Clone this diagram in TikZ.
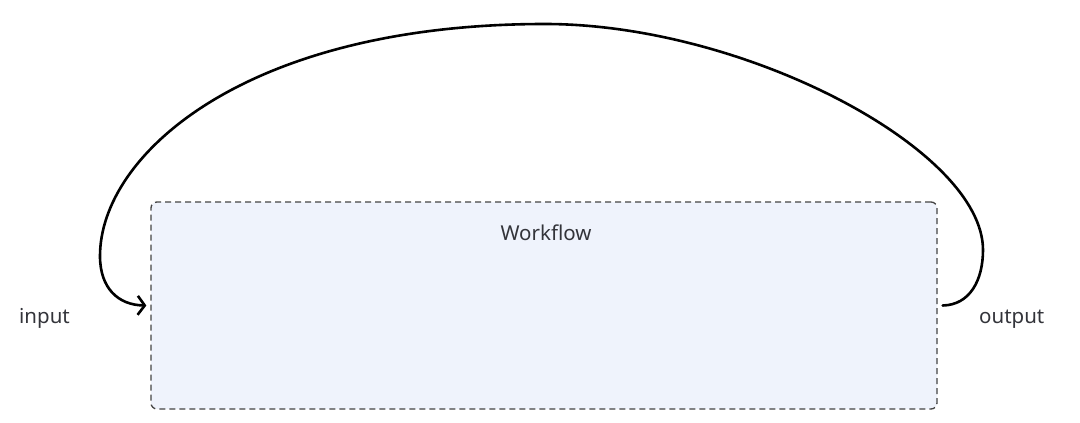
\documentclass[tikz,border=0pt]{standalone}
\usepackage{fontspec}
\setmainfont{Noto Sans}
\usetikzlibrary{arrows.meta}
\definecolor{boxfill}{HTML}{EFF3FC}
\definecolor{boxline}{HTML}{444444}
\definecolor{txt}{HTML}{33343A}
\tikzset{
  wfbox/.style={draw=boxline, fill=boxfill, line width=1.3pt, dash pattern=on 6pt off 4pt, rounded corners=6pt, minimum width=786pt, minimum height=207pt, inner sep=0pt},
  lbl/.style={text=txt, font=\fontsize{20.5}{24}\selectfont, inner sep=0pt},
  loopline/.style={line width=2.6pt, black, line cap=round, -{Straight Barb[length=7pt,width=19pt,line width=2.6pt]}}
}
\begin{document}
\begin{tikzpicture}[x=1pt,y=-1pt]
\useasboundingbox (0,0) rectangle (1080,423);
\node[wfbox] (wf) at (544,305.5) {};
\node[lbl, anchor=base] (wft) at (546,240) {Workflow};
\node[lbl, anchor=base west] (in) at (19,323) {input};
\node[lbl, anchor=base west] (out) at (979,323) {output};
\coordinate (s) at ([xshift=5pt]wf.east);
\coordinate (e) at ([xshift=-4pt]wf.west);
\draw[loopline] (s) .. controls (970,305) and (983,280) .. (983,250)
  .. controls (983,150) and (745,24) .. (545,24)
  .. controls (245,24) and (100,155) .. (100,256)
  .. controls (100,288) and (118,305) .. (e);
\end{tikzpicture}
\end{document}
